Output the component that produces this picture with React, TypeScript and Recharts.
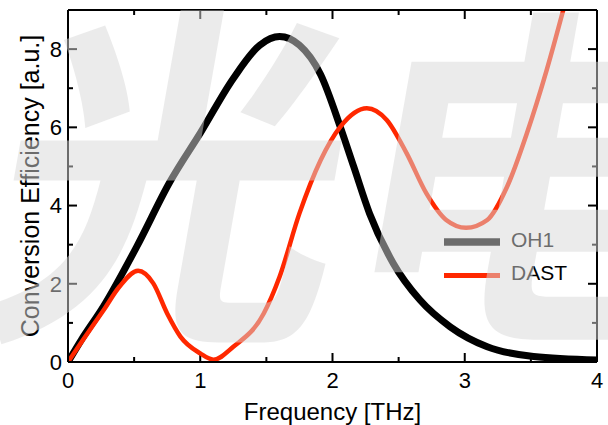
import React from "react";
import { LineChart, Line, XAxis, YAxis, Legend, ReferenceLine } from "recharts";

// values
const oh1X = [0, 0.1, 0.27, 0.52, 0.77, 1.0, 1.25, 1.45, 1.6, 1.75, 1.91, 2.06, 2.16, 2.28, 2.46, 2.66, 2.89, 3.17, 3.52, 4.0];
const oh1Y = [0, 0.56, 1.43, 2.95, 4.6, 5.85, 7.25, 8.1, 8.32, 8.1, 7.35, 6.0, 5.0, 3.8, 2.52, 1.59, 0.9, 0.39, 0.14, 0.05];

const dastX = [0, 0.1, 0.27, 0.39, 0.53, 0.645, 0.75, 0.85, 1.0, 1.1, 1.25, 1.48, 1.6, 1.75, 1.91, 2.06, 2.26, 2.41, 2.56, 2.71, 2.86, 3.01, 3.17, 3.32, 3.47, 3.62, 3.745, 3.8];
const dastY = [0, 0.5, 1.33, 1.93, 2.33, 2.01, 1.24, 0.65, 0.22, 0.06, 0.39, 1.24, 2.18, 3.8, 5.16, 6.02, 6.49, 6.19, 5.34, 4.31, 3.63, 3.43, 3.63, 4.48, 5.85, 7.47, 9.0, 9.7];

const xMajor = [0, 1, 2, 3, 4];
const xMinor = [0.5, 1.5, 2.5, 3.5];
const yMajor = [0, 2, 4, 6, 8];
const yMinor = [1, 3, 5, 7];
const seriesOrder = ["OH1", "DAST"];

const X_DOMAIN: [number, number] = [0, 4];
const Y_DOMAIN: [number, number] = [0, 9];
const PLOT_W = 529;
const PLOT_H = 352;

const FONT = "'Liberation Sans', Arial, Helvetica, sans-serif";

const oh1 = oh1X.map((x, i) => ({ x, y: oh1Y[i] }));
const dast = dastX.map((x, i) => ({ x, y: dastY[i] }));

// inward tick marks on the four sides of the frame, lengths in pixels turned into data units
const dxPerPx = (X_DOMAIN[1] - X_DOMAIN[0]) / PLOT_W;
const dyPerPx = (Y_DOMAIN[1] - Y_DOMAIN[0]) / PLOT_H;
const MAJOR = 9;
const MINOR = 5;
const xTickSet = [...xMajor.map((v) => [v, MAJOR]), ...xMinor.map((v) => [v, MINOR])];
const yTickSet = [...yMajor.map((v) => [v, MAJOR]), ...yMinor.map((v) => [v, MINOR])];
const tickSegments = [
  ...xTickSet.map(([v, len]) => [{ x: v, y: Y_DOMAIN[0] }, { x: v, y: Y_DOMAIN[0] + len * dyPerPx }]),
  ...xTickSet.map(([v, len]) => [{ x: v, y: Y_DOMAIN[1] }, { x: v, y: Y_DOMAIN[1] - len * dyPerPx }]),
  ...yTickSet.map(([v, len]) => [{ x: X_DOMAIN[0], y: v }, { x: X_DOMAIN[0] + len * dxPerPx, y: v }]),
  ...yTickSet.map(([v, len]) => [{ x: X_DOMAIN[1], y: v }, { x: X_DOMAIN[1] - len * dxPerPx, y: v }]),
];

const widths: Record<string, number> = { OH1: 7.5, DAST: 5 };

function LegendBox(props: any) {
  const items = [...(props.payload || [])].sort(
    (a: any, b: any) => seriesOrder.indexOf(a.value) - seriesOrder.indexOf(b.value)
  );
  return (
    <svg width={140} height={70} style={{ display: "block" }}>
      {items.map((p: any, i: number) => {
        const cy = 20 + i * 33.5;
        return (
          <g key={p.value}>
            <line x1={0} x2={56} y1={cy} y2={cy} stroke={p.color} strokeWidth={widths[p.value]} />
            <text x={67} y={cy + 4.5} fontSize={21} fontFamily={FONT} fill="#000">
              {p.value}
            </text>
          </g>
        );
      })}
    </svg>
  );
}

const NoLabel = () => <g />;
const axisLine = { stroke: "#000", strokeWidth: 2 };

export default function App() {
  return (
    <div style={{ position: "absolute", left: 0, top: 0, width: 608, height: 425, background: "#fff" }}>
      <LineChart width={608} height={425} margin={{ top: 10, right: 11, left: 0, bottom: 0 }}>
        {/* labelled axes */}
        <XAxis
          xAxisId="x"
          dataKey="x"
          type="number"
          domain={X_DOMAIN}
          allowDataOverflow
          ticks={xMajor}
          interval={0}
          height={63}
          tickSize={1}
          tickMargin={9}
          tickLine={false}
          axisLine={axisLine}
          tick={{ fontSize: 22, fontFamily: FONT, fill: "#000" }}
          label={{
            value: "Frequency [THz]",
            position: "insideBottom",
            offset: 5,
            fontSize: 24,
            fontFamily: FONT,
            fill: "#000",
          }}
        />
        <YAxis
          yAxisId="y"
          type="number"
          domain={Y_DOMAIN}
          ticks={yMajor}
          interval={0}
          allowDataOverflow
          width={68}
          tickSize={1}
          tickMargin={5}
          tickLine={false}
          axisLine={axisLine}
          tick={{ fontSize: 22, fontFamily: FONT, fill: "#000" }}
          label={{
            value: "Conversion Efficiency [a.u.]",
            angle: -90,
            position: "insideLeft",
            offset: 30,
            fontSize: 25,
            fontFamily: FONT,
            fill: "#000",
            style: { textAnchor: "middle" },
          }}
        />
        {/* top and right frame lines */}
        <XAxis xAxisId="top" mirror orientation="top" type="number" domain={X_DOMAIN} allowDataOverflow
          ticks={xMajor} interval={0} height={12} tick={NoLabel} tickLine={false} axisLine={axisLine} />
        <YAxis yAxisId="right" mirror orientation="right" type="number" domain={Y_DOMAIN} allowDataOverflow
          ticks={yMajor} interval={0} width={12} tick={NoLabel} tickLine={false} axisLine={axisLine} />
        {tickSegments.map((seg, i) => (
          <ReferenceLine
            key={`tick-${i}`}
            xAxisId="x"
            yAxisId="y"
            segment={seg}
            stroke="#000"
            strokeWidth={2}
            ifOverflow="visible"
          />
        ))}
        <Legend
          layout="vertical"
          align="center"
          verticalAlign="middle"
          content={<LegendBox />}
          wrapperStyle={{ left: 444, top: 222, width: 140, height: 70 }}
        />
        <Line
          xAxisId="x"
          yAxisId="y"
          data={oh1}
          dataKey="y"
          name="OH1"
          type="monotone"
          stroke="#000"
          strokeWidth={7}
          dot={false}
          isAnimationActive={false}
        />
        <Line
          xAxisId="x"
          yAxisId="y"
          data={dast}
          dataKey="y"
          name="DAST"
          type="monotone"
          stroke="#ff2800"
          strokeWidth={4.5}
          dot={false}
          isAnimationActive={false}
        />
      </LineChart>
      {/* faint watermark laid over the figure */}
      <svg
        width={608}
        height={425}
        style={{ position: "absolute", left: 0, top: 0, pointerEvents: "none" }}
      >
        <text
          x={-27}
          y={312}
          fontSize={355}
          fontWeight={700}
          fontFamily="'Noto Sans CJK SC', sans-serif"
          fill="#d7d7d7"
          fillOpacity={0.5}
          transform="skewX(-10) translate(55,0)"
        >
          光电
        </text>
      </svg>
    </div>
  );
}
